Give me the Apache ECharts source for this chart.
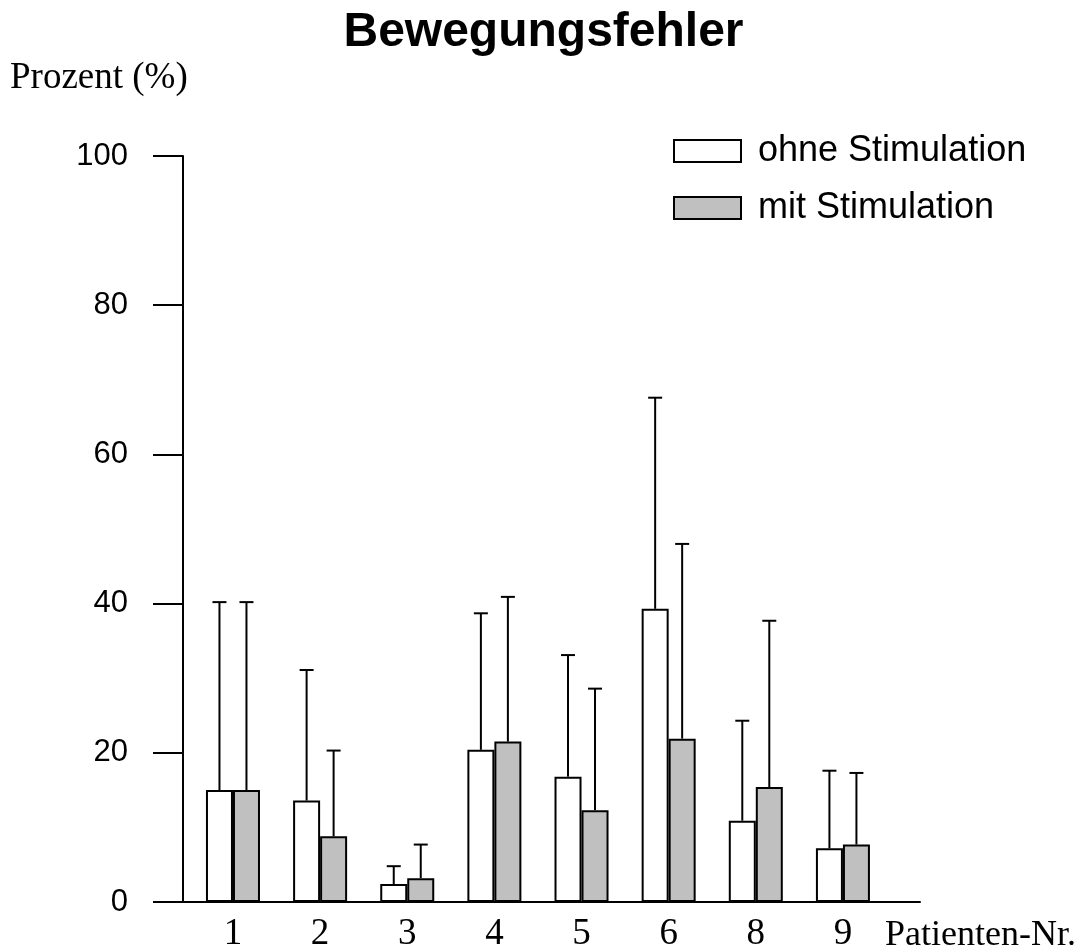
<!DOCTYPE html>
<html>
<head>
<meta charset="utf-8">
<script src="https://cdn.jsdelivr.net/npm/echarts@6/dist/echarts.min.js"></script>
<style>
html,body{margin:0;padding:0;background:#fff;}
#chart{width:1087px;height:952px;}
</style>
</head>
<body>
<div id="chart"></div>
<script>
// ---- data ----
const patients = ['1', '2', '3', '4', '5', '6', '8', '9'];
const seriesNames = ['ohne Stimulation', 'mit Stimulation'];
const ohne = [15.0, 13.6, 2.4, 20.4, 16.8, 39.3, 10.9, 7.2];
const ohneErrTop = [40.2, 31.1, 4.8, 38.7, 33.1, 67.6, 24.3, 17.6];
const mit = [15.0, 8.8, 3.2, 21.5, 12.3, 21.9, 15.4, 7.7];
const mitErrTop = [40.2, 20.3, 7.7, 40.9, 28.6, 48.0, 37.7, 17.3];
const yTicks = [0, 20, 40, 60, 80, 100];

// ---- style constants ----
const BAR_W = 27;
const CAP_HALF = 7;
const LINE_W = 2;

function errSeries(vals, tops, offset) {
  return {
    type: 'custom',
    xAxisIndex: 0, yAxisIndex: 0,
    z: 5,
    silent: true,
    data: vals.map((v, i) => [i, v, tops[i]]),
    encode: { x: 0, y: [1, 2] },
    renderItem: function (params, api) {
      const base = api.coord([api.value(0), api.value(1)]);
      const top = api.coord([api.value(0), api.value(2)]);
      const x = base[0] + offset;
      const st = { stroke: '#000', lineWidth: LINE_W, fill: null };
      return {
        type: 'group',
        children: [
          { type: 'line', shape: { x1: x, y1: base[1], x2: x, y2: top[1] }, style: st },
          { type: 'line', shape: { x1: x - CAP_HALF, y1: top[1], x2: x + CAP_HALF, y2: top[1] }, style: st }
        ]
      };
    }
  };
}

const chart = echarts.init(document.getElementById('chart'), null, { renderer: 'canvas' });
const option = {
  backgroundColor: '#fff',
  animation: false,
  title: [
    { text: 'Bewegungsfehler', left: 'center', top: 4,
      textStyle: { fontFamily: 'Liberation Sans', fontWeight: 'bold', fontSize: 48, color: '#000' } },
    { text: 'Prozent (%)', left: 5, top: 55,
      textStyle: { fontFamily: 'Liberation Serif', fontWeight: 'normal', fontSize: 37, color: '#000' } },
    { text: 'Patienten-Nr.', left: 880, top: 913,
      textStyle: { fontFamily: 'Liberation Serif', fontWeight: 'normal', fontSize: 36, color: '#000' } }
  ],
  legend: {
    orient: 'vertical',
    left: 673, top: 133,
    padding: 0,
    itemWidth: 67, itemHeight: 22,
    itemGap: 21,
    icon: 'rect',
    data: seriesNames,
    itemStyle: { borderColor: '#000', borderWidth: LINE_W },
    textStyle: { fontFamily: 'Liberation Sans', fontSize: 36, color: '#000', padding: [0, 0, 0, 12] }
  },
  grid: [
    { left: 189.4, top: 156, width: 697.1, height: 746, containLabel: false, outerBoundsMode: 'none' },
    { left: 183, top: 156, width: 737, height: 746, containLabel: false, outerBoundsMode: 'none' }
  ],
  xAxis: [
    { type: 'category', gridIndex: 0, data: patients, boundaryGap: true,
      axisLine: { show: false }, axisTick: { show: false },
      axisLabel: { margin: 14, fontFamily: 'Liberation Serif', fontSize: 37, color: '#000' } },
    { type: 'value', gridIndex: 1, min: 0, max: 1,
      axisLine: { show: true, lineStyle: { color: '#000', width: 2 } },
      axisTick: { show: false }, axisLabel: { show: false }, splitLine: { show: false } }
  ],
  yAxis: [
    { type: 'value', gridIndex: 0, min: 0, max: 100, interval: 20, show: false, splitLine: { show: false } },
    { type: 'value', gridIndex: 1, min: 0, max: 100, interval: 20,
      axisLine: { show: true, lineStyle: { color: '#000', width: 2 } },
      axisTick: { show: true, inside: false, length: 30, lineStyle: { color: '#000', width: 2 } },
      axisLabel: { margin: 55, fontFamily: 'Liberation Sans', fontSize: 31, color: '#000',
        formatter: v => (yTicks.indexOf(v) >= 0 ? String(v) : '') },
      splitLine: { show: false } }
  ],
  series: [
    { name: seriesNames[0], type: 'bar', xAxisIndex: 0, yAxisIndex: 0, data: ohne,
      barWidth: BAR_W, barGap: '0%',
      itemStyle: { color: '#ffffff', borderColor: '#000', borderWidth: LINE_W } },
    { name: seriesNames[1], type: 'bar', xAxisIndex: 0, yAxisIndex: 0, data: mit,
      barWidth: BAR_W, barGap: '0%',
      itemStyle: { color: '#c0c0c0', borderColor: '#000', borderWidth: LINE_W } },
    errSeries(ohne, ohneErrTop, -BAR_W / 2),
    errSeries(mit, mitErrTop, BAR_W / 2)
  ]
};
chart.setOption(option);
</script>
</body>
</html>
